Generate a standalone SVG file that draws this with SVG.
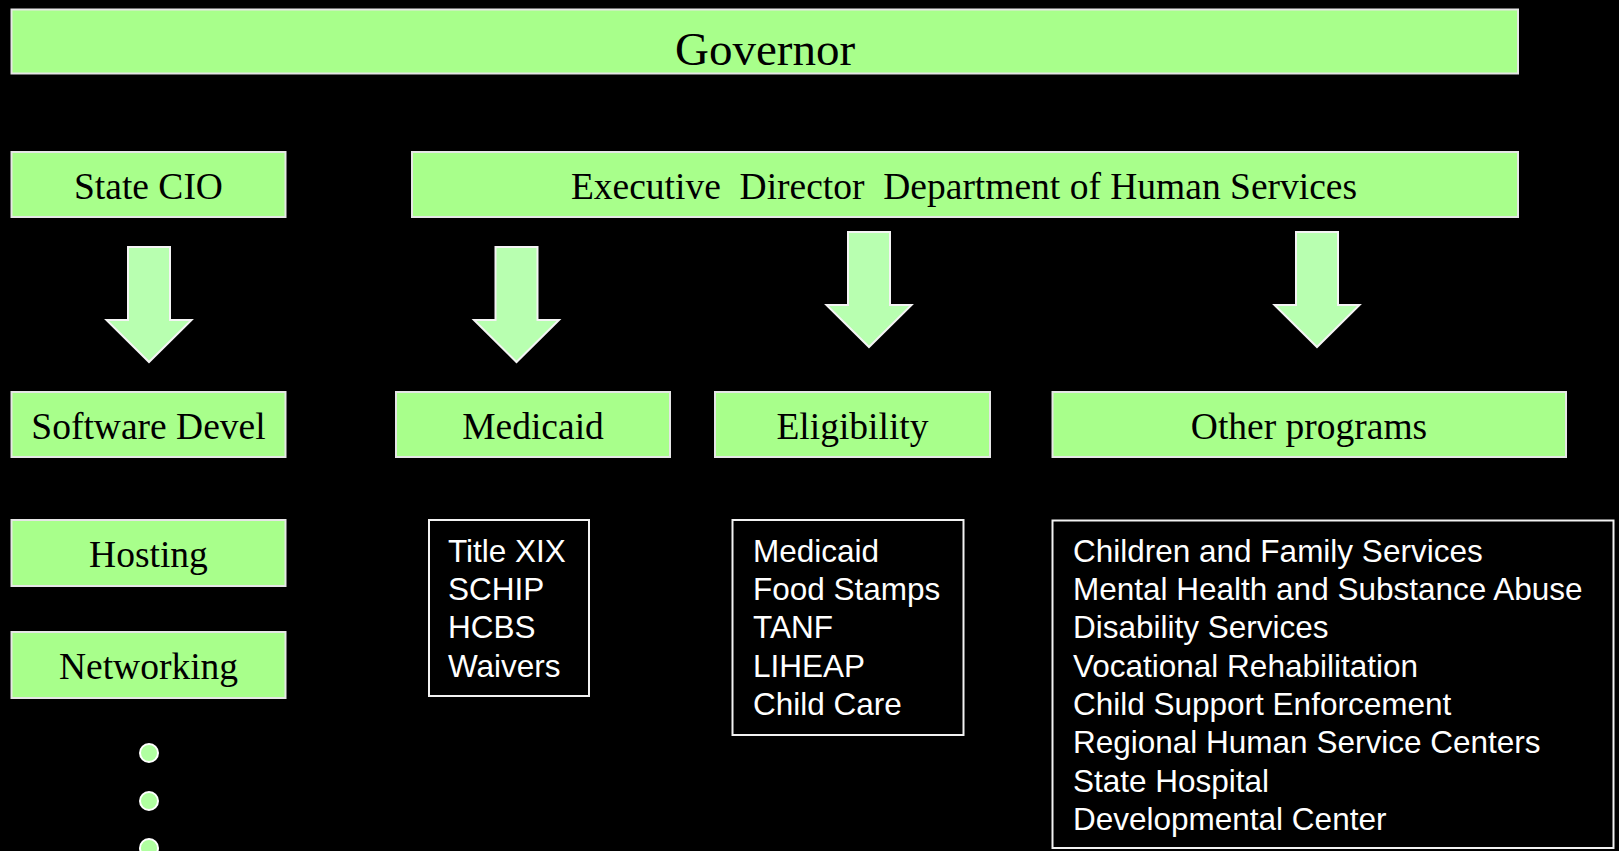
<svg xmlns="http://www.w3.org/2000/svg" xmlns:xlink="http://www.w3.org/1999/xlink" width="1619" height="851" viewBox="0 0 1619 851">
<style>
.box{fill:#a8ff8b;stroke:#e6e6e6;stroke-width:2}
.list{fill:#000;stroke:#f2f2f2;stroke-width:2}
.lbl{font-family:"Liberation Serif","Times New Roman",serif;font-size:37.5px;fill:#000;text-anchor:middle;white-space:pre}
.big{font-size:47px}
.item{font-family:"Liberation Sans",Arial,sans-serif;font-size:31.5px;fill:#fff}
.arrow{fill:#b8ffb0;stroke:#f4f4f4;stroke-width:2;stroke-linejoin:miter}
.dot{fill:#b0ffa0;stroke:#fff;stroke-width:2}
</style>
<defs>
<path id="darrow" d="M-21,-115 H21 V-42 H42.5 L0,0 L-42.5,-42 H-21 Z"/>
</defs>
<rect width="1619" height="851" fill="#000"/>
<g id="connectors">
<use xlink:href="#darrow" class="arrow" transform="translate(149,362)"/>
<use xlink:href="#darrow" class="arrow" transform="translate(516.5,362)"/>
<use xlink:href="#darrow" class="arrow" transform="translate(869,347)"/>
<use xlink:href="#darrow" class="arrow" transform="translate(1317,347)"/>
</g>
<g id="governor">
<rect class="box" x="11.5" y="9.5" width="1506.5" height="64"/>
<text class="lbl big" x="765" y="65">Governor</text>
</g>
<g id="state-cio">
<rect class="box" x="11.5" y="152" width="274" height="65"/>
<text class="lbl" x="148.5" y="199">State CIO</text>
</g>
<g id="exec-director">
<rect class="box" x="412" y="152" width="1106" height="65"/>
<text class="lbl" x="964" y="199">Executive  Director  Department of Human Services</text>
</g>
<g id="software-devel">
<rect class="box" x="11.5" y="392" width="274" height="65"/>
<text class="lbl" x="148.5" y="439">Software Devel</text>
</g>
<g id="medicaid">
<rect class="box" x="396" y="392" width="274" height="65"/>
<text class="lbl" x="533" y="439">Medicaid</text>
</g>
<g id="eligibility">
<rect class="box" x="715" y="392" width="275" height="65"/>
<text class="lbl" x="852.5" y="439">Eligibility</text>
</g>
<g id="other-programs">
<rect class="box" x="1052.5" y="392" width="513.5" height="65"/>
<text class="lbl" x="1309" y="439">Other programs</text>
</g>
<g id="hosting">
<rect class="box" x="11.5" y="520" width="274" height="66"/>
<text class="lbl" x="148.5" y="567">Hosting</text>
</g>
<g id="networking">
<rect class="box" x="11.5" y="632" width="274" height="66"/>
<text class="lbl" x="148.5" y="679">Networking</text>
</g>
<g id="more-dots">
<circle class="dot" cx="149" cy="753" r="9"/>
<circle class="dot" cx="149" cy="801" r="9"/>
<circle class="dot" cx="149" cy="848" r="9"/>
</g>
<g id="medicaid-list">
<rect class="list" x="429" y="520" width="160" height="176"/>
<text class="item" x="448" y="562">Title XIX</text>
<text class="item" x="448" y="600">SCHIP</text>
<text class="item" x="448" y="638">HCBS</text>
<text class="item" x="448" y="677">Waivers</text>
</g>
<g id="eligibility-list">
<rect class="list" x="732.5" y="520" width="231" height="215"/>
<text class="item" x="753" y="562">Medicaid</text>
<text class="item" x="753" y="600">Food Stamps</text>
<text class="item" x="753" y="638">TANF</text>
<text class="item" x="753" y="677">LIHEAP</text>
<text class="item" x="753" y="715">Child Care</text>
</g>
<g id="other-list">
<rect class="list" x="1052.5" y="520.5" width="561" height="327.5"/>
<text class="item" x="1073" y="562">Children and Family Services</text>
<text class="item" x="1073" y="600">Mental Health and Substance Abuse</text>
<text class="item" x="1073" y="638">Disability Services</text>
<text class="item" x="1073" y="677">Vocational Rehabilitation</text>
<text class="item" x="1073" y="715">Child Support Enforcement</text>
<text class="item" x="1073" y="753">Regional Human Service Centers</text>
<text class="item" x="1073" y="792">State Hospital</text>
<text class="item" x="1073" y="830">Developmental Center</text>
</g>
</svg>
